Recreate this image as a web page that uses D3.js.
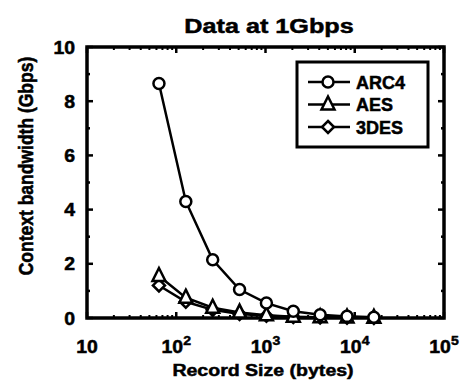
<!DOCTYPE html>
<html lang="en">
<head>
<meta charset="UTF-8">
<title>Data at 1Gbps</title>
<style>
  body { margin: 0; background: #fff; }
  text { font-family: "Liberation Sans", Arial, sans-serif; font-weight: bold; fill: #000; stroke: #000; stroke-width: 0.5px; }
</style>
</head>
<body>
<script src="https://cdn.jsdelivr.net/npm/d3@7"></script>
<script>
// record sizes (bytes)
var recordSizes = [64, 128, 256, 512, 1024, 2048, 4096, 8192, 16384];
var arc4 = [8.65, 4.3, 2.15, 1.05, 0.55, 0.25, 0.12, 0.06, 0.03];
var aes = [1.55, 0.75, 0.38, 0.2, 0.1, 0.05, 0.03, 0.015, 0.01];
var des3 = [1.2, 0.6, 0.3, 0.15, 0.08, 0.04, 0.02, 0.01, 0.005];
var seriesNames = ["ARC4", "AES", "3DES"];
var yTicks = [0, 2, 4, 6, 8, 10];
var xTicks = [10, 100, 1000, 10000, 100000];

var W = 460, H = 381;
var margin = { top: 47, right: 16, bottom: 63, left: 87 },
    width = W - margin.left - margin.right,
    height = H - margin.top - margin.bottom;

var svg = d3.select("body").append("svg")
    .attr("width", W).attr("height", H);

var g = svg.append("g")
    .attr("transform", "translate(" + margin.left + "," + margin.top + ")");

var x = d3.scaleLog().domain([10, 1e5]).range([0, width]);
var y = d3.scaleLinear().domain([0, 10]).range([height, 0]);

// minor x ticks
var xMinor = [];
for (var p = 10; p < 1e5; p *= 10) {
    for (var k = 2; k <= 9; k++) xMinor.push(p * k);
}
var yMinor = [1, 3, 5, 7, 9];

function tickLines(sel, vals, isX, len, sw) {
    vals.forEach(function (v) {
        if (isX) {
            sel.append("line").attr("x1", x(v)).attr("x2", x(v)).attr("y1", height).attr("y2", height - len)
                .attr("stroke", "#000").attr("stroke-width", sw);
            sel.append("line").attr("x1", x(v)).attr("x2", x(v)).attr("y1", 0).attr("y2", len)
                .attr("stroke", "#000").attr("stroke-width", sw);
        } else {
            sel.append("line").attr("x1", 0).attr("x2", len).attr("y1", y(v)).attr("y2", y(v))
                .attr("stroke", "#000").attr("stroke-width", sw);
            sel.append("line").attr("x1", width).attr("x2", width - len).attr("y1", y(v)).attr("y2", y(v))
                .attr("stroke", "#000").attr("stroke-width", sw);
        }
    });
}

var ticks = g.append("g");
tickLines(ticks, xMinor, true, 3, 2);
tickLines(ticks, xTicks, true, 6, 2.5);
tickLines(ticks, yMinor, false, 3, 2.5);
tickLines(ticks, yTicks, false, 6, 2.5);

// frame
g.append("rect").attr("width", width).attr("height", height)
    .attr("fill", "none").attr("stroke", "#000").attr("stroke-width", 3.5);

// text helper: horizontally stretched text like the original figure
function stretched(sel, cx, cy, sx, size, txt) {
    return sel.append("text")
        .attr("transform", "translate(" + cx + "," + cy + ") scale(" + sx + ",1)")
        .attr("text-anchor", "middle").style("font-size", size + "px").text(txt);
}

// tick labels
yTicks.forEach(function (d) {
    g.append("text")
        .attr("transform", "translate(-12," + (y(d) + 6.5) + ") scale(1.08,1)")
        .attr("text-anchor", "end").style("font-size", "18px")
        .text(d);
});

xTicks.forEach(function (d) {
    var t = g.append("text")
        .attr("transform", "translate(" + x(d) + "," + (height + 35) + ") scale(1.08,1)")
        .attr("text-anchor", "middle").style("font-size", "18px");
    var e = Math.round(Math.log10(d));
    if (e === 1) { t.text("10"); return; }
    t.append("tspan").text("10");
    t.append("tspan").attr("dy", -8).style("font-size", "13px").text(e);
});

// axis titles
stretched(svg, 263, 376, 1.15, 17, "Record Size (bytes)");
svg.append("text").attr("transform", "translate(33,166) rotate(-90) scale(1,1.15)")
    .attr("text-anchor", "middle").style("font-size", "17.5px").text("Context bandwidth (Gbps)");
stretched(svg, 269, 33, 1.2, 21, "Data at 1Gbps");

// series
var series = [
    { name: seriesNames[0], values: arc4, shape: "circle" },
    { name: seriesNames[1], values: aes, shape: "triangle" },
    { name: seriesNames[2], values: des3, shape: "diamond" }
];

var line = d3.line()
    .x(function (d) { return x(d[0]); })
    .y(function (d) { return y(d[1]); });

function marker(sel, shape, cx, cy) {
    if (shape === "circle") {
        sel.append("circle").attr("cx", cx).attr("cy", cy).attr("r", 5.5)
            .attr("fill", "#fff").attr("stroke", "#000").attr("stroke-width", 2.5);
    } else if (shape === "triangle") {
        sel.append("path").attr("transform", "translate(" + cx + "," + cy + ")")
            .attr("d", "M0,-8L6.5,5L-6.5,5Z")
            .attr("fill", "#fff").attr("stroke", "#000").attr("stroke-width", 2.5);
    } else {
        sel.append("path").attr("transform", "translate(" + cx + "," + cy + ")")
            .attr("d", "M0,-6L6,0L0,6L-6,0Z")
            .attr("fill", "#fff").attr("stroke", "#000").attr("stroke-width", 2.5);
    }
}

var plot = g.append("g");
series.slice().reverse().forEach(function (s) {
    var pts = recordSizes.map(function (r, i) { return [r, s.values[i]]; });
    plot.append("path").datum(pts).attr("d", line)
        .attr("fill", "none").attr("stroke", "#000").attr("stroke-width", 2.5);
    pts.forEach(function (p) { marker(plot, s.shape, x(p[0]), y(p[1])); });
});

// legend
var lg = svg.append("g").attr("transform", "translate(297,62)");
lg.append("rect").attr("width", 131).attr("height", 85)
    .attr("fill", "#fff").attr("stroke", "#000").attr("stroke-width", 3);
series.forEach(function (s, i) {
    var yy = 20 + i * 22.5;
    lg.append("line").attr("x1", 11).attr("x2", 53).attr("y1", yy).attr("y2", yy)
        .attr("stroke", "#000").attr("stroke-width", 2.5);
    marker(lg, s.shape, 31, yy);
    lg.append("text").attr("x", 59).attr("y", yy + 6.5).style("font-size", "18px").text(s.name);
});
</script>
</body>
</html>
